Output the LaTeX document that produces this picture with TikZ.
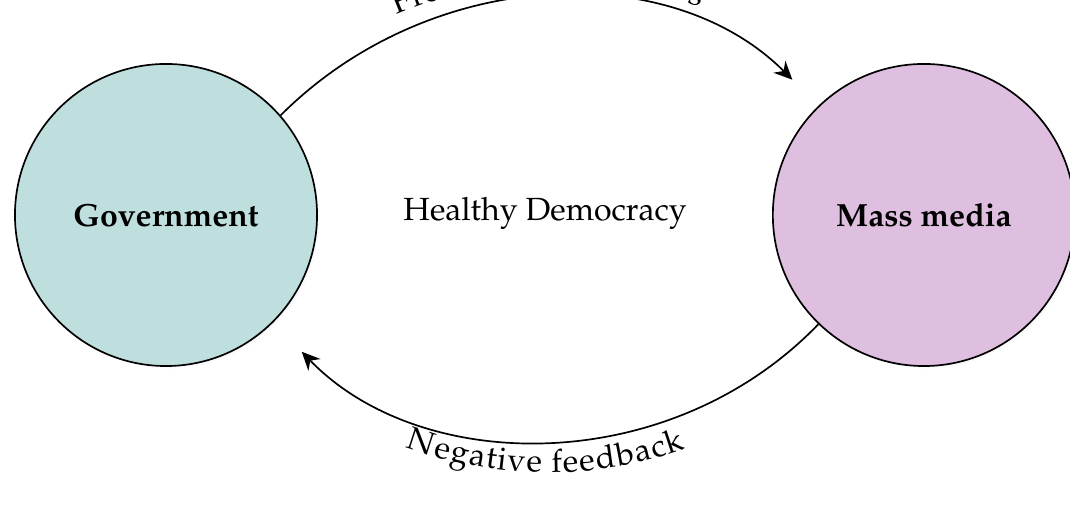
\documentclass[tikz,border=0pt]{standalone}
\usepackage[T1]{fontenc}
\usepackage{mathpazo}
\usetikzlibrary{positioning,shadows,arrows.meta,decorations.text}

\definecolor{govfill}{RGB}{191,223,223}
\definecolor{mediafill}{RGB}{223,191,223}
\newcommand{\labelfont}{\fontsize{22.8}{27}\selectfont}

\begin{document}
\begin{tikzpicture}[x=0.025cm,y=0.025cm,>={Stealth[length=13pt,width=12pt]},line width=1.2pt,
	every node/.style={font=\labelfont},
	actor/.style={circle,draw,line width=1.2pt,minimum size=7.55cm,inner sep=0pt,font=\labelfont\bfseries,
		circular drop shadow={shadow xshift=2pt,shadow yshift=-2pt,shadow scale=1,opacity=0.35}},
	]
	\clip (0,0) rectangle (1070,510);

	% create the nodes
	\node[actor,fill=govfill] (gov) at (166,295) {Government};
	\node[actor,fill=mediafill] (media) [right=11.35cm of gov] {Mass media};
	\node (demo) at (545,297) {Healthy Democracy};

	% connect the nodes
	\draw[->,shorten >=0.92cm] (gov.41) to[out=45,in=135] (media.134);
	\draw[->,shorten >=1.02cm] (media.226) to[out=226,in=-46] (gov.-45);

	% labels bent along the arcs
	\path[decorate,decoration={text along path,text align=center,raise=0.45cm,
		text={|\labelfont|Freedom of the press}}]
		(gov.41) to[out=45,in=135] (media.134);
	\path[decorate,decoration={text along path,text align=center,raise=-0.85cm,
		text={|\labelfont|Negative feedback}}]
		(gov.-45) to[out=-46,in=226] (media.226);
\end{tikzpicture}
\end{document}
